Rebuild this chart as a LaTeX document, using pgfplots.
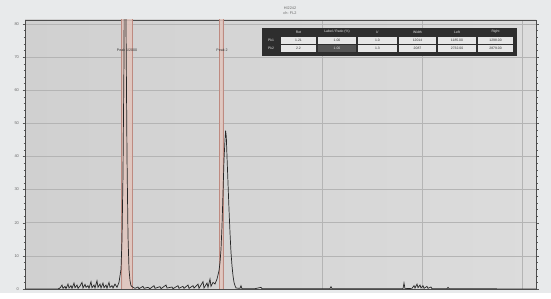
\documentclass[border=0pt]{standalone}
\usepackage{pgfplots}
\pgfplotsset{compat=1.18}
\usepackage{fontspec}
\setmainfont{Liberation Sans}
\definecolor{bgout}{HTML}{E8EAEB}
\definecolor{plotL}{HTML}{D0D0D0}
\definecolor{plotR}{HTML}{DCDCDC}
\definecolor{gridc}{HTML}{B4B4B4}
\definecolor{bandfill}{HTML}{E2C6BE}
\definecolor{bandedge}{HTML}{BE8A80}
\definecolor{tabdark}{HTML}{2E2E2E}
\definecolor{cellc}{HTML}{E6E6E6}
\definecolor{cellhi}{HTML}{555555}
\definecolor{trace}{HTML}{262626}
\begin{document}
\begin{tikzpicture}[x=1pt,y=1pt]
\fill[bgout] (0,0) rectangle (551,293);
\begin{axis}[
  at={(25pt,4pt)}, anchor=south west,
  scale only axis, width=511pt, height=269pt,
  xmin=25, xmax=536, ymin=0, ymax=8.12,
  axis background/.style={left color=plotL, right color=plotR},
  xtick={122,222,322,422,522}, xticklabels={},
  x tick style={draw=none},
  ytick={0,1,2,3,4,5,6,7,8},
  yticklabels={0,10,20,30,40,50,60,70,80},
  minor y tick num=4,
  y tick style={gray!70!black, line width=0.4pt},
  tick align=outside,
  major tick length=2.5pt, minor tick length=1.5pt,
  yticklabel style={font=\fontsize{4}{4}\selectfont, text=gray!80!black},
  grid=major,
  major grid style={gridc, line width=0.7pt},
  axis line style={gray!60!black, line width=0.9pt},
  clip=true,
]
\addplot[fill=bandfill, draw=bandedge, line width=0.6pt, fill opacity=0.85]
  coordinates {(121,0) (121,8.3) (132,8.3) (132,0)} -- cycle;
\addplot[fill=bandfill, draw=bandedge, line width=0.5pt, fill opacity=0.85]
  coordinates {(219,0) (219,8.3) (223,8.3) (223,0)} -- cycle;
\addplot[trace, line width=0.7pt] coordinates {
(25,0)(58,0)(60,0.03)(62,0.12)(63,0.02)(65,0.08)(66,0.01)(68,0.15)(69,0.03)(71,0.1)(72,0.02)(74,0.18)(75,0.04)(77,0.12)(78,0.02)(80,0.09)(82,0.2)(83,0.03)(85,0.14)(86,0.05)(88,0.1)(89,0.02)(91,0.22)(92,0.04)(94,0.12)(95,0.03)(97,0.25)(98,0.05)(100,0.15)(101,0.03)(103,0.18)(104,0.04)(106,0.12)(107,0.02)(109,0.2)(110,0.05)(112,0.1)(113,0.03)(115,0.15)(117,0.05)(119,0.2)(121,0.6)(122,1.5)(123,3.5)(124,7)(124.6,12)(125.4,12)(126,8)(127,4)(128,1.6)(129,0.6)(130,0.25)(131,0.1)(133,0.05)(135,0.02)(138,0.06)(139,0.01)(143,0.08)(144,0.02)(148,0.05)(150,0.01)(154,0.1)(155,0.02)(160,0.07)(161,0.01)(166,0.12)(167,0.03)(172,0.06)(173,0.01)(178,0.1)(179,0.02)(183,0.08)(184,0.02)(188,0.12)(189,0.02)(193,0.1)(194,0.03)(198,0.15)(199,0.02)(203,0.22)(204,0.03)(207,0.18)(208,0.05)(210,0.3)(211,0.08)(213,0.2)(215,0.15)(217,0.3)(219,0.55)(220,0.8)(221,1.2)(222,1.9)(223,2.9)(224,3.9)(225,4.5)(225.6,4.78)(226.3,4.6)(227,4.0)(228,3.2)(229,2.4)(230,1.7)(231,1.1)(232,0.7)(233,0.4)(234,0.2)(235,0.1)(236,0.03)(240,0.02)(241,0.1)(242,0.01)(255,0.01)(261,0.05)(262,0.01)(330,0.01)(331,0.07)(332,0.01)(403,0.01)(404,0.18)(405,0.01)(412,0.02)(414,0.1)(415,0.03)(417,0.15)(418,0.04)(420,0.12)(421,0.03)(423,0.1)(424,0.02)(427,0.08)(428,0.02)(431,0.06)(432,0.01)(447,0.01)(448,0.05)(449,0.01)(536,0)
};
\node[font=\fontsize{3.6}{4}\selectfont, text=black!80] at (axis cs:127,7.2) {Peak 1/2000};
\node[font=\fontsize{3.6}{4}\selectfont, text=black!80] at (axis cs:222,7.2) {Peak 2};
\end{axis}
% title
\node[font=\fontsize{3.8}{4}\selectfont, text=gray!80!black] at (290,285) {HI2242};
\node[font=\fontsize{3.8}{4}\selectfont, text=gray!80!black] at (290,280) {ch: FL2};
% results table
\fill[tabdark] (262,237) rectangle (517,265);
\foreach \a/\b/\h/\r/\s in {
  280/317/Ret/1.21/2.2,
  317/357/{Label / Ratio (\%)}/1.00/1.00,
  357/398/k'/1.0/1.3,
  398/437/Width/12014/2087,
  437/477/Left/1185.00/2732.00,
  477/514/Right/1298.00/2879.00}{
  \node[font=\fontsize{3.4}{4}\selectfont, text=white!85!gray] at ({(\a+\b)/2},261) {\h};
  \fill[cellc] (\a+0.6,249) rectangle (\b-0.6,256);
  \node[font=\fontsize{3.4}{4}\selectfont, text=black!80] at ({(\a+\b)/2},252.5) {\r};
  \fill[cellc] (\a+0.6,241) rectangle (\b-0.6,248);
  \node[font=\fontsize{3.4}{4}\selectfont, text=black!80] at ({(\a+\b)/2},244.5) {\s};
}
\fill[cellhi] (317.6,241) rectangle (356.4,248);
\node[font=\fontsize{3.4}{4}\selectfont, text=white!80!gray] at (337,244.5) {1.00};
\node[font=\fontsize{3.4}{4}\selectfont, text=white!85!gray] at (271,252.5) {Pk1};
\node[font=\fontsize{3.4}{4}\selectfont, text=white!85!gray] at (271,244.5) {Pk2};
\end{tikzpicture}
\end{document}
